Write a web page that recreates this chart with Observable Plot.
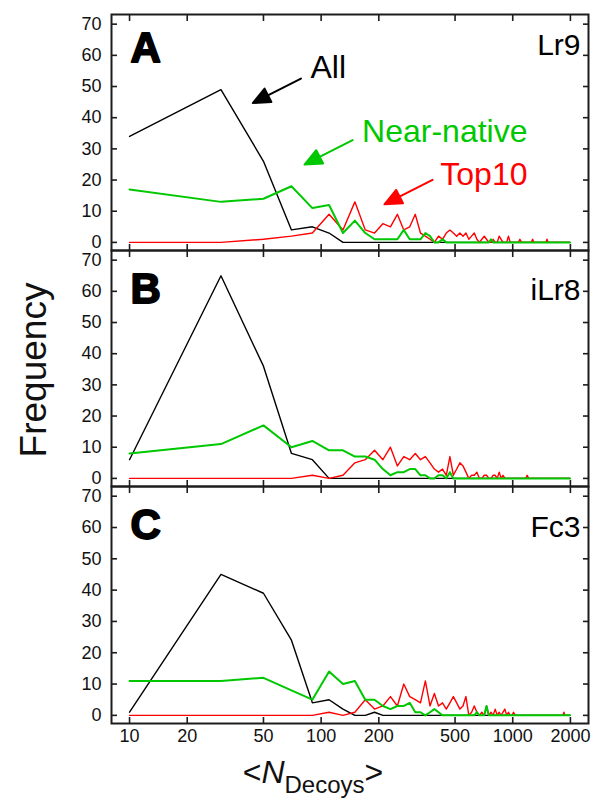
<!DOCTYPE html>
<html><head><meta charset="utf-8">
<script src="https://cdn.jsdelivr.net/npm/d3@7"></script>
<script src="https://cdn.jsdelivr.net/npm/@observablehq/plot@0.6"></script>
<style>
body{margin:0;background:#fff;}
#chart{position:relative;width:597px;height:803px;overflow:hidden;background:#fff;font-family:"Liberation Sans",Arial,sans-serif;color:#111;}
#chart svg{position:absolute;left:0;}
#ytitle{position:absolute;left:-116px;top:348px;width:300px;text-align:center;font-size:37px;line-height:44px;transform:rotate(-90deg);}
#xtitle{position:absolute;left:163px;top:752px;width:300px;text-align:center;font-size:32px;line-height:40px;white-space:nowrap;}
#xtitle sub{font-size:24px;vertical-align:-10px;line-height:0;}
</style></head><body><div id="chart"><div id="ytitle">Frequency</div><div id="xtitle">&lt;<i>N</i><sub>Decoys</sub>&gt;</div></div>
<script>
// bin centres of <N_Decoys>
const xBins = [10,30,50,70,90,110,130,150,170,190,
210,230,250,270,290,310,330,350,370,390,
410,430,450,470,490,510,530,550,570,590,
610,630,650,670,690,710,730,750,770,790,
810,830,850,870,890,910,930,950,970,990,
1010,1030,1050,1070,1090,1110,1130,1150,1170,1190,
1210,1230,1250,1270,1290,1310,1330,1350,1370,1390,
1410,1430,1450,1470,1490,1510,1530,1550,1570,1590,
1610,1630,1650,1670,1690,1710,1730,1750,1770,1790,
1810,1830,1850,1870,1890,1910,1930,1950,1970,1990];

const xTicks = [10,20,50,100,200,500,1000,2000];
const yTicks = [0,10,20,30,40,50,60,70];

// Panel A: Lr9
const allA = [34,49,26,4,5,3,0,0,0,0,
0,0,0,0,0,0,0,0,0,0, 0,0,0,0,0,0,0,0,0,0, 0,0,0,0,0,0,0,0,0,0,
0,0,0,0,0,0,0,0,0,0, 0,0,0,0,0,0,0,0,0,0, 0,0,0,0,0,0,0,0,0,0,
0,0,0,0,0,0,0,0,0,0, 0,0,0,0,0,0,0,0,0,0, 0,0,0,0,0,0,0,0,0,0];
const nearA = [17,13,14,18,11,12,3,7,3,1,
1,1,1,4,1,1,1,3,2,0,
0,1,0,0,0,0,0,0,0,0,
0,0,0,0,0,0,0,0,1,0,
0,0,0,0,0,0,0,0,0,0, 0,0,0,0,0,0,0,0,0,0, 0,0,0,0,0,0,0,0,0,0,
0,0,0,0,0,0,0,0,0,0, 0,0,0,0,0,0,0,0,0,0, 0,0,0,0,0,0,0,0,0,0];
const topA = [0,0,1,2,3,9,4,13,4,3,
6,5,9,4,5,9,3,2,1,0,
2,1,3,4,3,2,3,2,3,1,
2,3,1,0,1,2,1,0,0,1,
0,0,2,1,0,0,0,2,0,0,
0,0,0,0,1,0,0,0,0,0,
0,0,0,1,0,0,0,0,0,0,
0,0,0,0,0,1,0,0,0,0,
0,0,0,0,0,0,0,0,0,0, 0,0,0,0,0,0,0,0,0,0];

// Panel B: iLr8
const allB = [6,65,36,8,6,0,0,0,0,0,
0,0,0,0,0,0,0,0,0,0, 0,0,0,0,0,0,0,0,0,0, 0,0,0,0,0,0,0,0,0,0,
0,0,0,0,0,0,0,0,0,0, 0,0,0,0,0,0,0,0,0,0, 0,0,0,0,0,0,0,0,0,0,
0,0,0,0,0,0,0,0,0,0, 0,0,0,0,0,0,0,0,0,0, 0,0,0,0,0,0,0,0,0,0];
const nearB = [8,11,17,10,12,9,9,7,7,6,
3,1,2,2,3,3,1,1,0,0,
1,1,0,2,0,0,0,0,0,0,
0,0,0,0,0,0,0,0,0,0, 0,0,0,0,0,0,0,0,0,0, 0,0,0,0,0,0,0,0,0,0,
0,0,0,0,0,0,0,0,0,0, 0,0,0,0,0,0,0,0,0,0, 0,0,0,0,0,0,0,0,0,0, 0,0,0,0,0,0,0,0,0,0];
const topB = [0,0,0,0,1,0,1,5,6,9,
6,10,4,7,6,8,6,7,5,3,
2,3,1,7,1,3,5,4,2,0,
1,1,2,0,0,1,1,0,0,1,
1,0,2,0,1,0,0,0,0,0,
0,0,0,0,0,0,0,0,0,1,
0,0,0,0,0,0,0,0,0,0, 0,0,0,0,0,0,0,0,0,0, 0,0,0,0,0,0,0,0,0,0, 0,0,0,0,0,0,0,0,0,0];

// Panel C: Fc3
const allC = [1,45,39,24,4,5,2,0,0,1,
0,0,0,0,0,0,0,0,0,0, 0,0,0,0,0,0,0,0,0,0, 0,0,0,0,0,0,0,0,0,0,
0,0,0,0,0,0,0,0,0,0, 0,0,0,0,0,0,0,0,0,0, 0,0,0,0,0,0,0,0,0,0,
0,0,0,0,0,0,0,0,0,0, 0,0,0,0,0,0,0,0,0,0, 0,0,0,0,0,0,0,0,0,0];
const nearC = [11,11,12,8,5,14,10,11,5,5,
3,2,3,3,4,1,1,0,1,2,
1,0,0,0,0,0,0,0,0,0,
0,0,1,0,0,0,3,0,0,0,
0,0,0,0,0,0,0,0,0,0, 0,0,0,0,0,0,0,0,0,0, 0,0,0,0,0,0,0,0,0,0,
0,0,0,0,0,0,0,0,0,0, 0,0,0,0,0,0,0,0,0,0, 0,0,0,0,0,0,0,0,0,0];
const topC = [0,0,0,0,0,1,0,1,5,2,
3,6,3,10,6,5,4,11,3,7,
3,4,2,4,6,4,2,3,6,0,
1,3,1,0,1,0,3,0,1,0,
2,0,1,0,1,2,0,1,0,0,
1,0,0,0,0,0,0,0,0,0,
0,0,0,0,0,0,0,0,0,0, 0,0,0,0,0,0,0,0,0,0, 0,0,0,0,0,0,0,0,0,0,
0,0,1,0,0,0,0,0,0,0];

const panelLetters = ["A", "B", "C"];
const panelNames = ["Lr9", "iLr8", "Fc3"];

const BLACK = "#000", GREEN = "#00c800", RED = "#ff0000", INK = "#1c1c1c";

const arrowShape = {draw(ctx, l) {
  const h = 17, w = 7.5;
  ctx.moveTo(0, 0); ctx.lineTo(0, -l + h * 0.7);
  ctx.moveTo(0, -l); ctx.lineTo(-w, -l + h); ctx.lineTo(w, -l + h); ctx.closePath();
}};

function panel({all, near, top10, letter, name, height, mt, mb, letterDy, nameDy, bottomLabels, notes}) {
  const marks = [
    Plot.line(all, {x: xBins, y: d => d, stroke: BLACK, strokeWidth: 1.4}),
    Plot.line(top10, {x: xBins, y: d => d, stroke: RED, strokeWidth: 1.4}),
    Plot.line(near, {x: xBins, y: d => d, stroke: GREEN, strokeWidth: 2}),
    Plot.frame({stroke: INK, strokeWidth: 2}),
    Plot.axisY(yTicks, {anchor: "left", tickSize: 0, tickPadding: 10, label: null}),
    Plot.axisY(yTicks, {anchor: "left", tickSize: -6, fill: "none", label: null, stroke: INK, strokeWidth: 1.6}),
    Plot.axisY(yTicks, {anchor: "right", tickSize: -6, fill: "none", label: null, stroke: INK, strokeWidth: 1.6}),
    Plot.axisX(xTicks, {anchor: "top", tickSize: -6, fill: "none", label: null, stroke: INK, strokeWidth: 1.6}),
    Plot.axisX(xTicks, {anchor: "bottom", tickSize: -6, fill: "none", label: null, stroke: INK, strokeWidth: 1.6}),
    Plot.text([letter], {text: d => d, frameAnchor: "top-left", dx: 19, dy: letterDy, lineAnchor: "top", textAnchor: "start",
      fontSize: 42, fontWeight: "bold", fill: BLACK, stroke: BLACK, strokeWidth: 1.8}),
    Plot.text([name], {text: d => d, frameAnchor: "top-right", dx: -8, dy: nameDy, lineAnchor: "top", textAnchor: "end",
      fontSize: 30, fill: BLACK})
  ];
  if (bottomLabels) marks.push(Plot.text(xTicks, {x: d => d, text: d => String(d), frameAnchor: "bottom", lineAnchor: "top", dy: 6, fontSize: 18, fill: "#111"}));
  if (notes) marks.push(...notes);
  return Plot.plot({
    width: 597, height, marginLeft: 111, marginRight: 9, marginTop: mt, marginBottom: mb,
    style: {background: "transparent", fontFamily: "'Liberation Sans', Arial, sans-serif", fontSize: "18px", color: "#111", overflow: "visible"},
    x: {type: "log", domain: [8.05, 2486]},
    y: {domain: [-2.6, 73.1]},
    marks
  });
}

const notesA = [
  Plot.text(["All"], {text: d => d, x: 88, y: 55.9, textAnchor: "start", fontSize: 32, fill: BLACK}),
  Plot.text(["Near-native"], {text: d => d, x: 1194, y: 35.5, textAnchor: "end", fontSize: 32, fill: GREEN}),
  Plot.text(["Top10"], {text: d => d, x: 1194, y: 21.6, textAnchor: "end", fontSize: 32, fill: RED}),
  Plot.vector([0], {x: 44, y: 44.7, length: 54, rotate: 243, anchor: "end", shape: arrowShape, stroke: BLACK, fill: BLACK, strokeWidth: 2}),
  Plot.vector([0], {x: 81.9, y: 24.95, length: 54, rotate: 243, anchor: "end", shape: arrowShape, stroke: GREEN, fill: GREEN, strokeWidth: 2}),
  Plot.vector([0], {x: 214, y: 12.2, length: 54, rotate: 243, anchor: "end", shape: arrowShape, stroke: RED, fill: RED, strokeWidth: 2})
];

const chart = document.getElementById("chart");
const specs = [
  {all: allA, near: nearA, top10: topA, letter: panelLetters[0], name: panelNames[0], height: 260, mt: 14, mb: 10, top: 0, letterDy: 18, nameDy: 19, notes: notesA},
  {all: allB, near: nearB, top10: topB, letter: panelLetters[1], name: panelNames[1], height: 256, mt: 10, mb: 10, top: 240, letterDy: 23, nameDy: 28},
  {all: allC, near: nearC, top10: topC, letter: panelLetters[2], name: panelNames[2], height: 280, mt: 10, mb: 33, top: 476, letterDy: 23, nameDy: 29, bottomLabels: true}
];
for (const s of specs) {
  const svg = panel(s);
  svg.style.top = s.top + "px";
  chart.appendChild(svg);
}
</script>
</body></html>
